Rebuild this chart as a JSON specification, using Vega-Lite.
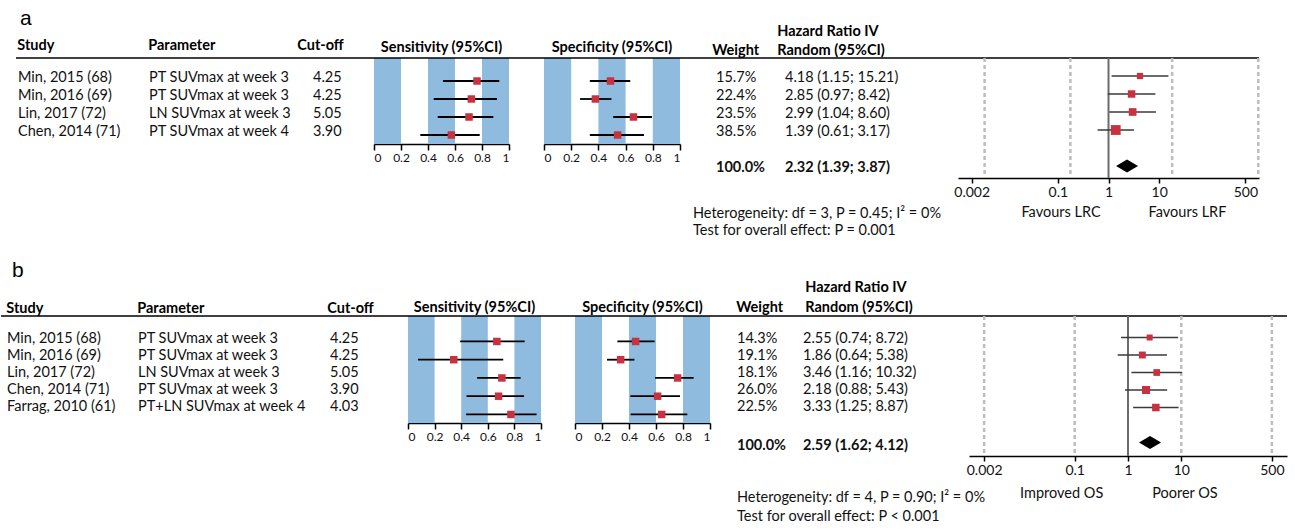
{
"$schema": "https://vega.github.io/schema/vega-lite/v6.json",
"background": "white",
"padding": {"left": 0, "top": 7, "right": 5, "bottom": 5},
"autosize": {"type": "pad"},
"spacing": 22,
"config": {
  "view": {"stroke": null},
  "font": "Lato",
  "text": {"font": "Lato", "fontSize": 14.5, "color": "#111"},
  "title": {"font": "Lato", "fontSize": 14.5, "fontWeight": "bold", "color": "#000", "anchor": "start", "baseline": "bottom", "offset": 0, "lineHeight": 19},
  "axis": {"labelFont": "Lato", "labelColor": "#111", "domainColor": "#000", "tickColor": "#000", "grid": false, "domainWidth": 1.5, "tickWidth": 1.5, "labelOverlap": false},
  "axisX": {"labelOverlap": false},
  "axisQuantitative": {"labelOverlap": false}
},
"datasets": {
  "studiesA": [
    {"row": 1, "study": "Min, 2015 (68)", "parameter": "PT SUVmax at week 3", "cutoff": "4.25", "sens": 0.763, "sens_lo": 0.511, "sens_hi": 0.928, "spec": 0.489, "spec_lo": 0.337, "spec_hi": 0.634, "w": 0.157, "hr": 4.18, "lo": 1.15, "hi": 15.21, "hr_label": "4.18 (1.15; 15.21)"},
    {"row": 2, "study": "Min, 2016 (69)", "parameter": "PT SUVmax at week 3", "cutoff": "4.25", "sens": 0.721, "sens_lo": 0.442, "sens_hi": 0.911, "spec": 0.378, "spec_lo": 0.265, "spec_hi": 0.496, "w": 0.224, "hr": 2.85, "lo": 0.97, "hi": 8.42, "hr_label": "2.85 (0.97; 8.42)"},
    {"row": 3, "study": "Lin, 2017 (72)", "parameter": "LN SUVmax at week 3", "cutoff": "5.05", "sens": 0.704, "sens_lo": 0.472, "sens_hi": 0.884, "spec": 0.658, "spec_lo": 0.509, "spec_hi": 0.794, "w": 0.235, "hr": 2.99, "lo": 1.04, "hi": 8.60, "hr_label": "2.99 (1.04; 8.60)"},
    {"row": 4, "study": "Chen, 2014 (71)", "parameter": "PT SUVmax at week 4", "cutoff": "3.90", "sens": 0.573, "sens_lo": 0.343, "sens_hi": 0.783, "spec": 0.541, "spec_lo": 0.337, "spec_hi": 0.735, "w": 0.385, "hr": 1.39, "lo": 0.61, "hi": 3.17, "hr_label": "1.39 (0.61; 3.17)"}
  ],
  "studiesB": [
    {"row": 1, "study": "Min, 2015 (68)", "parameter": "PT SUVmax at week 3", "cutoff": "4.25", "sens": 0.668, "sens_lo": 0.392, "sens_hi": 0.877, "spec": 0.449, "spec_lo": 0.314, "spec_hi": 0.590, "w": 0.143, "hr": 2.55, "lo": 0.74, "hi": 8.72, "hr_label": "2.55 (0.74; 8.72)"},
    {"row": 2, "study": "Min, 2016 (69)", "parameter": "PT SUVmax at week 3", "cutoff": "4.25", "sens": 0.344, "sens_lo": 0.075, "sens_hi": 0.716, "spec": 0.338, "spec_lo": 0.237, "spec_hi": 0.440, "w": 0.191, "hr": 1.86, "lo": 0.64, "hi": 5.38, "hr_label": "1.86 (0.64; 5.38)"},
    {"row": 3, "study": "Lin, 2017 (72)", "parameter": "LN SUVmax at week 3", "cutoff": "5.05", "sens": 0.706, "sens_lo": 0.520, "sens_hi": 0.847, "spec": 0.760, "spec_lo": 0.593, "spec_hi": 0.879, "w": 0.181, "hr": 3.46, "lo": 1.16, "hi": 10.32, "hr_label": "3.46 (1.16; 10.32)"},
    {"row": 4, "study": "Chen, 2014 (71)", "parameter": "PT SUVmax at week 3", "cutoff": "3.90", "sens": 0.681, "sens_lo": 0.440, "sens_hi": 0.872, "spec": 0.612, "spec_lo": 0.410, "spec_hi": 0.778, "w": 0.260, "hr": 2.18, "lo": 0.88, "hi": 5.43, "hr_label": "2.18 (0.88; 5.43)"},
    {"row": 5, "study": "Farrag, 2010 (61)", "parameter": "PT+LN SUVmax at week 4", "cutoff": "4.03", "sens": 0.774, "sens_lo": 0.437, "sens_hi": 0.967, "spec": 0.642, "spec_lo": 0.412, "spec_hi": 0.832, "w": 0.225, "hr": 3.33, "lo": 1.25, "hi": 8.87, "hr_label": "3.33 (1.25; 8.87)"}
  ],
  "summaryA": [{"row": 6, "w": 1, "hr": 2.32, "lo": 1.39, "hi": 3.87, "hr_label": "2.32 (1.39; 3.87)"}],
  "summaryB": [{"row": 7, "w": 1, "hr": 2.59, "lo": 1.62, "hi": 4.12, "hr_label": "2.59 (1.62; 4.12)"}],
  "bands": [{"lo": 0, "hi": 0.2}, {"lo": 0.4, "hi": 0.6}, {"lo": 0.8, "hi": 1}],
  "gridA": [{"x": 0.0036}, {"x": 0.177}, {"x": 18}, {"x": 900}],
  "gridB": [{"x": 0.002}, {"x": 0.1}, {"x": 10}, {"x": 500}]
},
"vconcat": [
{
  "bounds": "flush",
  "spacing": 0,
  "hconcat": [
    {"width": 15, "height": 120, "title": {"text": "a", "anchor": "start", "frame": "group", "font": "Liberation Sans", "fontSize": 21, "fontWeight": "normal", "baseline": "alphabetic", "offset": 12.5, "dx": 19},
     "data": {"values": [{}]}, "mark": {"type": "rule", "opacity": 0}, "encoding": {"y": {"value": 0}}},
    {"width": 133, "height": 120, "title": {"text": "Study", "dx": 2},
     "layer": [
      {"data": {"values": [{}]}, "mark": {"type": "rule", "color": "#000", "strokeWidth": 1.5}, "encoding": {"y": {"value": 0}}},
      {"data": {"name": "studiesA"}, "mark": {"type": "text", "align": "left", "baseline": "middle"},
       "encoding": {"x": {"value": 2}, "y": {"field": "row", "type": "quantitative", "scale": {"domain": [-0.111, 6.556], "reverse": true, "nice": false, "zero": false}, "axis": null}, "text": {"field": "study"}}}
     ]},
    {"width": 149, "height": 120, "title": {"text": "Parameter"},
     "layer": [
      {"data": {"values": [{}]}, "mark": {"type": "rule", "color": "#000", "strokeWidth": 1.5}, "encoding": {"y": {"value": 0}}},
      {"data": {"name": "studiesA"}, "mark": {"type": "text", "align": "left", "baseline": "middle"},
       "encoding": {"x": {"value": 0}, "y": {"field": "row", "type": "quantitative", "scale": {"domain": [-0.111, 6.556], "reverse": true, "nice": false, "zero": false}, "axis": null}, "text": {"field": "parameter"}}}
     ]},
    {"width": 76, "height": 120, "title": {"text": "Cut-off"},
     "layer": [
      {"data": {"values": [{}]}, "mark": {"type": "rule", "color": "#000", "strokeWidth": 1.5}, "encoding": {"y": {"value": 0}}},
      {"data": {"name": "studiesA"}, "mark": {"type": "text", "align": "left", "baseline": "middle"},
       "encoding": {"x": {"value": 15}, "y": {"field": "row", "type": "quantitative", "scale": {"domain": [-0.111, 6.556], "reverse": true, "nice": false, "zero": false}, "axis": null}, "text": {"field": "cutoff"}}}
     ]},
    {"width": 135, "height": 86, "title": {"text": "Sensitivity (95%CI)", "anchor": "middle", "offset": 2},
     "layer": [
      {"data": {"name": "bands"}, "mark": {"type": "rect", "color": "#8fbcde"},
       "encoding": {"x": {"field": "lo", "type": "quantitative", "scale": {"domain": [0, 1], "nice": false, "zero": false},
         "axis": {"values": [0, 0.2, 0.4, 0.6, 0.8, 1], "format": "~g", "title": null, "labelFontSize": 12, "tickSize": 6, "labelPadding": 2, "labelOverlap": false, "labelBound": false}},
        "x2": {"field": "hi"}}},
      {"data": {"values": [{}]}, "mark": {"type": "rule", "color": "#000", "strokeWidth": 1.5}, "encoding": {"y": {"value": 0}}},
      {"data": {"name": "studiesA"}, "mark": {"type": "rule", "color": "#000", "strokeWidth": 1.8},
       "encoding": {"x": {"field": "sens_lo", "type": "quantitative", "axis": {"values": [0, 0.2, 0.4, 0.6, 0.8, 1], "format": "~g", "title": null, "labelFontSize": 12, "tickSize": 6, "labelPadding": 2, "labelOverlap": false, "labelBound": false}}, "x2": {"field": "sens_hi"},
        "y": {"field": "row", "type": "quantitative", "scale": {"domain": [-0.278, 4.5], "reverse": true, "nice": false, "zero": false}, "axis": null}}},
      {"data": {"name": "studiesA"}, "mark": {"type": "square", "size": 56, "color": "#c8313f", "opacity": 1},
       "encoding": {"x": {"field": "sens", "type": "quantitative", "axis": {"values": [0, 0.2, 0.4, 0.6, 0.8, 1], "format": "~g", "title": null, "labelFontSize": 12, "tickSize": 6, "labelPadding": 2, "labelOverlap": false, "labelBound": false}}, "y": {"field": "row", "type": "quantitative", "axis": null}}}
     ]},
    {"width": 35, "height": 86, "data": {"values": [{}]}, "mark": {"type": "rule", "color": "#000", "strokeWidth": 1.5}, "encoding": {"y": {"value": 0}}},
    {"width": 136, "height": 86, "title": {"text": "Specificity (95%CI)", "anchor": "middle", "offset": 2},
     "layer": [
      {"data": {"name": "bands"}, "mark": {"type": "rect", "color": "#8fbcde"},
       "encoding": {"x": {"field": "lo", "type": "quantitative", "scale": {"domain": [0, 1], "nice": false, "zero": false},
         "axis": {"values": [0, 0.2, 0.4, 0.6, 0.8, 1], "format": "~g", "title": null, "labelFontSize": 12, "tickSize": 6, "labelPadding": 2, "labelOverlap": false, "labelBound": false}},
        "x2": {"field": "hi"}}},
      {"data": {"values": [{}]}, "mark": {"type": "rule", "color": "#000", "strokeWidth": 1.5}, "encoding": {"y": {"value": 0}}},
      {"data": {"name": "studiesA"}, "mark": {"type": "rule", "color": "#000", "strokeWidth": 1.8},
       "encoding": {"x": {"field": "spec_lo", "type": "quantitative", "axis": {"values": [0, 0.2, 0.4, 0.6, 0.8, 1], "format": "~g", "title": null, "labelFontSize": 12, "tickSize": 6, "labelPadding": 2, "labelOverlap": false, "labelBound": false}}, "x2": {"field": "spec_hi"},
        "y": {"field": "row", "type": "quantitative", "scale": {"domain": [-0.278, 4.5], "reverse": true, "nice": false, "zero": false}, "axis": null}}},
      {"data": {"name": "studiesA"}, "mark": {"type": "square", "size": 56, "color": "#c8313f", "opacity": 1},
       "encoding": {"x": {"field": "spec", "type": "quantitative", "axis": {"values": [0, 0.2, 0.4, 0.6, 0.8, 1], "format": "~g", "title": null, "labelFontSize": 12, "tickSize": 6, "labelPadding": 2, "labelOverlap": false, "labelBound": false}}, "y": {"field": "row", "type": "quantitative", "axis": null}}}
     ]},
    {"width": 98, "height": 120, "title": {"text": "Weight", "dx": 33, "offset": -1},
     "layer": [
      {"data": {"values": [{}]}, "mark": {"type": "rule", "color": "#000", "strokeWidth": 1.5}, "encoding": {"y": {"value": 0}}},
      {"data": {"name": "studiesA"}, "mark": {"type": "text", "align": "left", "baseline": "middle"},
       "encoding": {"x": {"value": 36}, "y": {"field": "row", "type": "quantitative", "scale": {"domain": [-0.111, 6.556], "reverse": true, "nice": false, "zero": false}, "axis": null}, "text": {"field": "w", "type": "quantitative", "format": ".1%"}}},
      {"data": {"name": "summaryA"}, "mark": {"type": "text", "align": "left", "baseline": "middle", "fontWeight": "bold"},
       "encoding": {"x": {"value": 36}, "y": {"field": "row", "type": "quantitative", "axis": null}, "text": {"field": "w", "type": "quantitative", "format": ".1%"}}},
      {"data": {"values": [{}]}, "mark": {"type": "text", "align": "left", "baseline": "middle"},
       "encoding": {"x": {"value": 13}, "y": {"datum": 8.556, "type": "quantitative", "axis": null}, "text": {"value": "Heterogeneity: df = 3, P = 0.45; I² = 0%"}}},
      {"data": {"values": [{}]}, "mark": {"type": "text", "align": "left", "baseline": "middle"},
       "encoding": {"x": {"value": 13}, "y": {"datum": 9.5, "type": "quantitative", "axis": null}, "text": {"value": "Test for overall effect: P = 0.001"}}}
     ]},
    {"width": 180, "height": 120, "title": {"text": ["Hazard Ratio IV", "Random (95%CI)"], "lineHeight": 19, "offset": -1},
     "layer": [
      {"data": {"values": [{}]}, "mark": {"type": "rule", "color": "#000", "strokeWidth": 1.5}, "encoding": {"y": {"value": 0}}},
      {"data": {"name": "studiesA"}, "mark": {"type": "text", "align": "left", "baseline": "middle"},
       "encoding": {"x": {"value": 7}, "y": {"field": "row", "type": "quantitative", "scale": {"domain": [-0.111, 6.556], "reverse": true, "nice": false, "zero": false}, "axis": null}, "text": {"field": "hr_label"}}},
      {"data": {"name": "summaryA"}, "mark": {"type": "text", "align": "left", "baseline": "middle", "fontWeight": "bold"},
       "encoding": {"x": {"value": 7}, "y": {"field": "row", "type": "quantitative", "axis": null}, "text": {"field": "hr_label"}}}
     ]},
    {"width": 301, "height": 120,
     "layer": [
      {"data": {"values": [{}]}, "mark": {"type": "rule", "color": "#000", "strokeWidth": 1.5}, "encoding": {"y": {"value": 0}}},
      {"data": {"name": "gridA"}, "mark": {"type": "rule", "color": "#bdbdbd", "strokeWidth": 2.5, "strokeDash": [4, 3]},
       "encoding": {"x": {"field": "x", "type": "quantitative", "scale": {"type": "log", "domain": [0.001076, 929], "nice": false},
         "axis": {"values": [0.002, 0.1, 1, 10, 500], "format": "~g", "title": null, "labelFontSize": 14, "labelFlush": false, "tickSize": 5, "labelPadding": 2, "labelOverlap": false}}}},
      {"data": {"values": [{}]}, "mark": {"type": "rule", "color": "#6b6b6b", "strokeWidth": 2}, "encoding": {"x": {"datum": 1, "type": "quantitative"}}},
      {"data": {"name": "studiesA"}, "mark": {"type": "rule", "color": "#3a3a3a", "strokeWidth": 1.5},
       "encoding": {"x": {"field": "lo", "type": "quantitative", "title": null}, "x2": {"field": "hi"},
        "y": {"field": "row", "type": "quantitative", "scale": {"domain": [0, 6.667], "reverse": true, "nice": false, "zero": false}, "axis": null}}},
      {"data": {"name": "studiesA"}, "mark": {"type": "square", "color": "#c8313f", "opacity": 1},
       "encoding": {"x": {"field": "hr", "type": "quantitative", "title": null}, "y": {"field": "row", "type": "quantitative", "axis": null},
        "size": {"field": "w", "type": "quantitative", "scale": {"domain": [0, 0.4], "range": [0, 100]}, "legend": null}}},
      {"data": {"name": "summaryA"}, "mark": {"type": "point", "shape": "M-1,0L0,-0.6L1,0L0,0.6Z", "size": 484, "filled": true, "color": "#000", "opacity": 1},
       "encoding": {"x": {"field": "hr", "type": "quantitative", "title": null}, "y": {"field": "row", "type": "quantitative", "axis": null}}},
      {"data": {"values": [{}]}, "mark": {"type": "text", "align": "center", "baseline": "middle"},
       "encoding": {"x": {"datum": 0.1156, "type": "quantitative"}, "y": {"datum": 8.61, "type": "quantitative", "axis": null}, "text": {"value": "Favours LRC"}}},
      {"data": {"values": [{}]}, "mark": {"type": "text", "align": "center", "baseline": "middle"},
       "encoding": {"x": {"datum": 36.1, "type": "quantitative"}, "y": {"datum": 8.61, "type": "quantitative", "axis": null}, "text": {"value": "Favours LRF"}}}
     ]}
  ]
},
{
  "bounds": "flush",
  "spacing": 0,
  "hconcat": [
    {"width": 1, "height": 140, "title": {"text": "b", "anchor": "start", "frame": "group", "font": "Liberation Sans", "fontSize": 21, "fontWeight": "normal", "baseline": "alphabetic", "offset": 17, "dx": 11},
     "data": {"values": [{}]}, "mark": {"type": "rule", "color": "#000", "strokeWidth": 1.5}, "encoding": {"y": {"value": 0}}},
    {"width": 136, "height": 140, "title": {"text": "Study", "dx": 5, "offset": -1},
     "layer": [
      {"data": {"values": [{}]}, "mark": {"type": "rule", "color": "#000", "strokeWidth": 1.5}, "encoding": {"y": {"value": 0}}},
      {"data": {"name": "studiesB"}, "mark": {"type": "text", "align": "left", "baseline": "middle"},
       "encoding": {"x": {"value": 5}, "y": {"field": "row", "type": "quantitative", "scale": {"domain": [-0.335, 7.9], "reverse": true, "nice": false, "zero": false}, "axis": null}, "text": {"field": "study"}}}
     ]},
    {"width": 190, "height": 140, "title": {"text": "Parameter", "offset": -1},
     "layer": [
      {"data": {"values": [{}]}, "mark": {"type": "rule", "color": "#000", "strokeWidth": 1.5}, "encoding": {"y": {"value": 0}}},
      {"data": {"name": "studiesB"}, "mark": {"type": "text", "align": "left", "baseline": "middle"},
       "encoding": {"x": {"value": 0}, "y": {"field": "row", "type": "quantitative", "scale": {"domain": [-0.335, 7.9], "reverse": true, "nice": false, "zero": false}, "axis": null}, "text": {"field": "parameter"}}}
     ]},
    {"width": 80, "height": 140, "title": {"text": "Cut-off", "offset": -1},
     "layer": [
      {"data": {"values": [{}]}, "mark": {"type": "rule", "color": "#000", "strokeWidth": 1.5}, "encoding": {"y": {"value": 0}}},
      {"data": {"name": "studiesB"}, "mark": {"type": "text", "align": "left", "baseline": "middle"},
       "encoding": {"x": {"value": 2}, "y": {"field": "row", "type": "quantitative", "scale": {"domain": [-0.335, 7.9], "reverse": true, "nice": false, "zero": false}, "axis": null}, "text": {"field": "cutoff"}}}
     ]},
    {"width": 133, "height": 107, "title": {"text": "Sensitivity (95%CI)", "anchor": "middle", "offset": 0},
     "layer": [
      {"data": {"name": "bands"}, "mark": {"type": "rect", "color": "#8fbcde"},
       "encoding": {"x": {"field": "lo", "type": "quantitative", "scale": {"domain": [0, 1], "nice": false, "zero": false},
         "axis": {"values": [0, 0.2, 0.4, 0.6, 0.8, 1], "format": "~g", "title": null, "labelFontSize": 12, "tickSize": 6, "labelPadding": 2, "labelOverlap": false, "labelBound": false}},
        "x2": {"field": "hi"}}},
      {"data": {"values": [{}]}, "mark": {"type": "rule", "color": "#000", "strokeWidth": 1.5}, "encoding": {"y": {"value": 0}}},
      {"data": {"name": "studiesB"}, "mark": {"type": "rule", "color": "#000", "strokeWidth": 1.8},
       "encoding": {"x": {"field": "sens_lo", "type": "quantitative", "axis": {"values": [0, 0.2, 0.4, 0.6, 0.8, 1], "format": "~g", "title": null, "labelFontSize": 12, "tickSize": 6, "labelPadding": 2, "labelOverlap": false, "labelBound": false}}, "x2": {"field": "sens_hi"},
        "y": {"field": "row", "type": "quantitative", "scale": {"domain": [-0.395, 5.468], "reverse": true, "nice": false, "zero": false}, "axis": null}}},
      {"data": {"name": "studiesB"}, "mark": {"type": "square", "size": 56, "color": "#c8313f", "opacity": 1},
       "encoding": {"x": {"field": "sens", "type": "quantitative", "axis": {"values": [0, 0.2, 0.4, 0.6, 0.8, 1], "format": "~g", "title": null, "labelFontSize": 12, "tickSize": 6, "labelPadding": 2, "labelOverlap": false, "labelBound": false}}, "y": {"field": "row", "type": "quantitative", "axis": null}}}
     ]},
    {"width": 34, "height": 107, "data": {"values": [{}]}, "mark": {"type": "rule", "color": "#000", "strokeWidth": 1.5}, "encoding": {"y": {"value": 0}}},
    {"width": 135, "height": 107, "title": {"text": "Specificity (95%CI)", "anchor": "middle", "offset": 0},
     "layer": [
      {"data": {"name": "bands"}, "mark": {"type": "rect", "color": "#8fbcde"},
       "encoding": {"x": {"field": "lo", "type": "quantitative", "scale": {"domain": [0, 1], "nice": false, "zero": false},
         "axis": {"values": [0, 0.2, 0.4, 0.6, 0.8, 1], "format": "~g", "title": null, "labelFontSize": 12, "tickSize": 6, "labelPadding": 2, "labelOverlap": false, "labelBound": false}},
        "x2": {"field": "hi"}}},
      {"data": {"values": [{}]}, "mark": {"type": "rule", "color": "#000", "strokeWidth": 1.5}, "encoding": {"y": {"value": 0}}},
      {"data": {"name": "studiesB"}, "mark": {"type": "rule", "color": "#000", "strokeWidth": 1.8},
       "encoding": {"x": {"field": "spec_lo", "type": "quantitative", "axis": {"values": [0, 0.2, 0.4, 0.6, 0.8, 1], "format": "~g", "title": null, "labelFontSize": 12, "tickSize": 6, "labelPadding": 2, "labelOverlap": false, "labelBound": false}}, "x2": {"field": "spec_hi"},
        "y": {"field": "row", "type": "quantitative", "scale": {"domain": [-0.395, 5.468], "reverse": true, "nice": false, "zero": false}, "axis": null}}},
      {"data": {"name": "studiesB"}, "mark": {"type": "square", "size": 56, "color": "#c8313f", "opacity": 1},
       "encoding": {"x": {"field": "spec", "type": "quantitative", "axis": {"values": [0, 0.2, 0.4, 0.6, 0.8, 1], "format": "~g", "title": null, "labelFontSize": 12, "tickSize": 6, "labelPadding": 2, "labelOverlap": false, "labelBound": false}}, "y": {"field": "row", "type": "quantitative", "axis": null}}}
     ]},
    {"width": 92, "height": 140, "title": {"text": "Weight", "dx": 27, "offset": 0},
     "layer": [
      {"data": {"values": [{}]}, "mark": {"type": "rule", "color": "#000", "strokeWidth": 1.5}, "encoding": {"y": {"value": 0}}},
      {"data": {"name": "studiesB"}, "mark": {"type": "text", "align": "left", "baseline": "middle"},
       "encoding": {"x": {"value": 27}, "y": {"field": "row", "type": "quantitative", "scale": {"domain": [-0.335, 7.9], "reverse": true, "nice": false, "zero": false}, "axis": null}, "text": {"field": "w", "type": "quantitative", "format": ".1%"}}},
      {"data": {"name": "summaryB"}, "mark": {"type": "text", "align": "left", "baseline": "middle", "fontWeight": "bold", "dy": 5},
       "encoding": {"x": {"value": 27}, "y": {"field": "row", "type": "quantitative", "axis": null}, "text": {"field": "w", "type": "quantitative", "format": ".1%"}}},
      {"data": {"values": [{}]}, "mark": {"type": "text", "align": "left", "baseline": "middle"},
       "encoding": {"x": {"value": 27}, "y": {"datum": 10.37, "type": "quantitative", "axis": null}, "text": {"value": "Heterogeneity: df = 4, P = 0.90; I² = 0%"}}},
      {"data": {"values": [{}]}, "mark": {"type": "text", "align": "left", "baseline": "middle"},
       "encoding": {"x": {"value": 27}, "y": {"datum": 11.49, "type": "quantitative", "axis": null}, "text": {"value": "Test for overall effect: P < 0.001"}}}
     ]},
    {"width": 167, "height": 140, "title": {"text": ["Hazard Ratio IV", "Random (95%CI)"], "lineHeight": 20, "dx": 4, "offset": 0},
     "layer": [
      {"data": {"values": [{}]}, "mark": {"type": "rule", "color": "#000", "strokeWidth": 1.5}, "encoding": {"y": {"value": 0}}},
      {"data": {"name": "studiesB"}, "mark": {"type": "text", "align": "left", "baseline": "middle"},
       "encoding": {"x": {"value": 1}, "y": {"field": "row", "type": "quantitative", "scale": {"domain": [-0.335, 7.9], "reverse": true, "nice": false, "zero": false}, "axis": null}, "text": {"field": "hr_label"}}},
      {"data": {"name": "summaryB"}, "mark": {"type": "text", "align": "left", "baseline": "middle", "fontWeight": "bold", "dy": 5},
       "encoding": {"x": {"value": 1}, "y": {"field": "row", "type": "quantitative", "axis": null}, "text": {"field": "hr_label"}}}
     ]},
    {"width": 318, "height": 140,
     "layer": [
      {"data": {"values": [{}]}, "mark": {"type": "rule", "color": "#000", "strokeWidth": 1.5}, "encoding": {"y": {"value": 0}}},
      {"data": {"name": "gridB"}, "mark": {"type": "rule", "color": "#bdbdbd", "strokeWidth": 2.5, "strokeDash": [4, 3]},
       "encoding": {"x": {"field": "x", "type": "quantitative", "scale": {"type": "log", "domain": [0.00104, 962], "nice": false},
         "axis": {"values": [0.002, 0.1, 1, 10, 500], "format": "~g", "title": null, "labelFontSize": 14, "labelFlush": false, "tickSize": 5, "labelPadding": 2, "labelOverlap": false}}}},
      {"data": {"values": [{}]}, "mark": {"type": "rule", "color": "#6b6b6b", "strokeWidth": 2}, "encoding": {"x": {"datum": 1, "type": "quantitative"}}},
      {"data": {"name": "studiesB"}, "mark": {"type": "rule", "color": "#3a3a3a", "strokeWidth": 1.5},
       "encoding": {"x": {"field": "lo", "type": "quantitative", "title": null}, "x2": {"field": "hi"},
        "y": {"field": "row", "type": "quantitative", "scale": {"domain": [-0.229, 7.771], "reverse": true, "nice": false, "zero": false}, "axis": null}}},
      {"data": {"name": "studiesB"}, "mark": {"type": "square", "color": "#c8313f", "opacity": 1},
       "encoding": {"x": {"field": "hr", "type": "quantitative", "title": null}, "y": {"field": "row", "type": "quantitative", "axis": null},
        "size": {"field": "w", "type": "quantitative", "scale": {"domain": [0, 0.4], "range": [0, 90]}, "legend": null}}},
      {"data": {"name": "summaryB"}, "mark": {"type": "point", "shape": "M-1,0L0,-0.6L1,0L0,0.6Z", "size": 484, "filled": true, "color": "#000", "opacity": 1},
       "encoding": {"x": {"field": "hr", "type": "quantitative", "title": null}, "y": {"field": "row", "type": "quantitative", "axis": null}}},
      {"data": {"values": [{}]}, "mark": {"type": "text", "align": "center", "baseline": "middle"},
       "encoding": {"x": {"datum": 0.057, "type": "quantitative"}, "y": {"datum": 9.93, "type": "quantitative", "axis": null}, "text": {"value": "Improved OS"}}},
      {"data": {"values": [{}]}, "mark": {"type": "text", "align": "center", "baseline": "middle"},
       "encoding": {"x": {"datum": 11.7, "type": "quantitative"}, "y": {"datum": 9.93, "type": "quantitative", "axis": null}, "text": {"value": "Poorer OS"}}}
     ]}
  ]
}
]
}
